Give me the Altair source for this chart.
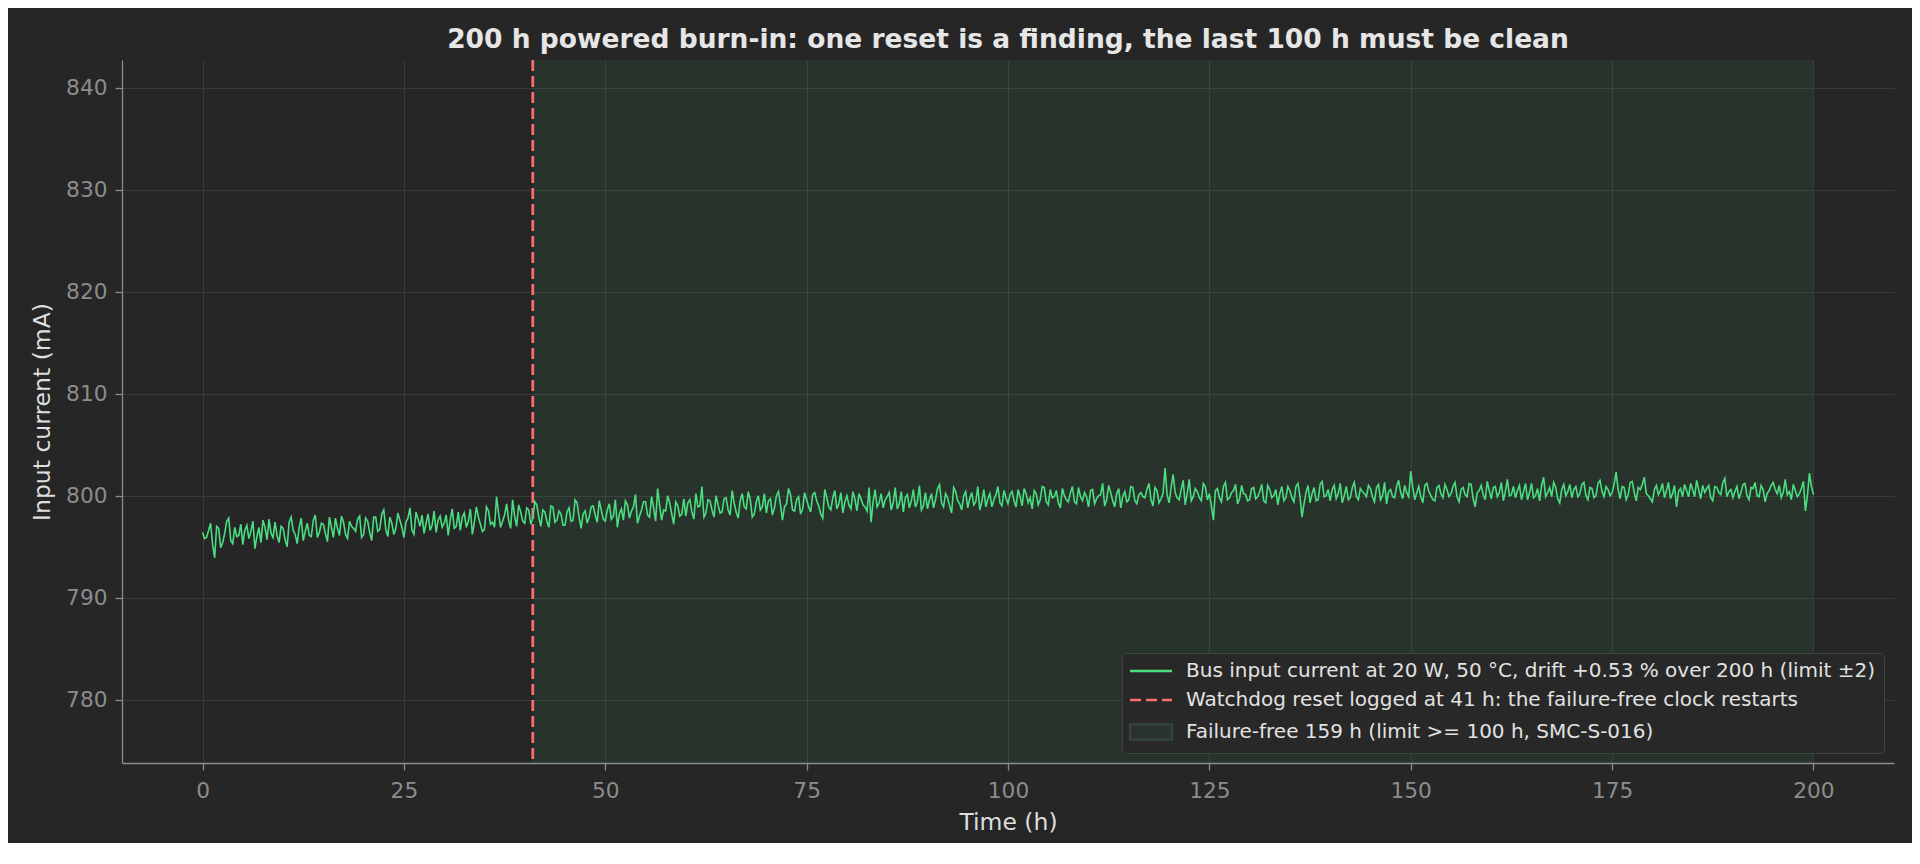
import altair as alt
import numpy as np
import pandas as pd

# ---- data ----
# current samples on the whole half hours, split in four 50 h blocks
current_0_50 = [
    796.4, 795.9, 797.3, 793.9, 796.8, 795.4, 797.5, 795.6, 796.9, 796.1,
    795.2, 797.1, 796.5, 794.8, 796.9, 797.6, 795.7, 796.3, 797.4, 795.4,
    796.8, 795.0, 797.9, 796.2, 796.9, 795.6, 797.3, 796.0, 798.1, 796.4,
    797.2, 795.5, 796.9, 797.8, 796.1, 797.4, 795.8, 797.0, 796.5, 798.0,
    796.2, 797.5, 795.6, 797.9, 796.7, 798.6, 796.0, 797.3, 796.8, 797.6,
    795.9, 797.8, 796.6, 798.4, 797.0, 796.3, 798.2, 797.1, 796.4, 798.0,
    797.3, 796.1, 798.7, 797.0, 796.6, 798.3, 797.5, 796.2, 798.9, 797.2,
    796.7, 798.5, 797.4, 799.9, 796.9, 798.1, 797.6, 799.6, 797.0, 798.4,
    797.3, 798.6, 797.8, 799.1, 797.0, 798.4, 796.9, 798.9, 797.6, 798.2,
    797.1, 798.8, 797.6, 799.3, 796.8, 798.5, 797.9, 799.0, 797.4, 798.6,
]
current_50_100 = [
    797.5, 799.2, 798.0, 796.9, 798.7, 799.5, 797.8, 798.9, 797.3, 798.6,
    799.4, 797.9, 798.8, 800.7, 797.6, 798.5, 799.3, 797.2, 799.0, 798.2,
    798.0, 799.6, 797.7, 798.9, 800.9, 798.3, 799.5, 797.9, 799.1, 798.4,
    799.8, 798.1, 799.3, 797.8, 800.2, 798.7, 799.6, 798.2, 800.0, 798.9,
    798.3, 799.7, 798.8, 800.4, 797.6, 799.2, 800.1, 798.5, 799.9, 798.7,
    799.6, 798.4, 800.3, 799.0, 797.8, 799.8, 798.6, 800.5, 799.2, 798.3,
    800.0, 798.7, 799.6, 800.2, 799.1, 798.5, 797.4, 800.6, 799.3, 798.8,
    799.9, 798.6, 800.8, 799.2, 798.4, 800.1, 799.5, 798.9, 801.0, 799.0,
    798.7, 800.2, 799.6, 801.1, 798.9, 799.8, 798.3, 800.4, 799.2, 800.0,
    798.8, 800.3, 799.4, 798.6, 800.6, 799.7, 798.9, 800.1, 799.3, 800.5,
]
current_100_150 = [
    799.2, 800.4, 798.9, 799.9, 800.7, 799.3, 798.7, 800.2, 799.6, 800.8,
    799.1, 799.8, 800.5, 798.8, 800.0, 799.4, 800.9, 799.2, 799.9, 800.3,
    798.9, 800.6, 799.7, 800.1, 799.0, 801.0, 799.5, 800.2, 798.8, 800.4,
    799.6, 800.8, 799.2, 800.3, 799.8, 801.2, 799.0, 800.5, 799.7, 802.7,
    799.3, 802.1, 799.8, 800.6, 799.1, 801.6, 799.9, 800.4, 799.5, 800.9,
    800.2, 797.6, 800.7, 799.4, 801.3, 799.8, 800.5, 799.2, 801.0, 800.1,
    799.6, 800.8, 799.9, 801.1, 799.3, 800.6, 800.0, 799.1, 800.9, 799.8,
    800.5, 799.4, 801.2, 797.9, 800.3, 799.3, 800.8, 799.6, 801.4, 800.0,
    799.5, 801.0, 800.2, 799.3, 800.9, 799.8, 801.3, 799.6, 800.4, 799.9,
    800.7, 799.4, 801.1, 800.0, 799.2, 800.6, 799.8, 801.5, 799.7, 800.3,
]
current_150_200 = [
    802.4, 799.6, 800.9, 799.3, 801.2, 800.0, 799.5, 801.0, 799.8, 800.6,
    800.2, 801.3, 799.4, 800.8, 799.9, 801.1, 798.9, 800.5, 800.1, 801.4,
    799.7, 800.9, 800.3, 799.5, 801.6, 800.1, 799.8, 801.0, 800.4, 799.6,
    801.2, 800.0, 799.5, 801.8, 800.3, 799.9, 800.8, 799.3, 801.1, 800.4,
    799.8, 800.9, 800.2, 801.3, 799.6, 800.7, 800.0, 801.5, 799.9, 800.6,
    800.3, 802.3, 799.7, 800.8, 800.1, 801.4, 799.5, 800.6, 801.8, 800.0,
    799.4, 801.0, 800.5, 799.8, 801.3, 800.2, 798.9, 800.7, 801.1, 799.9,
    800.6, 801.5, 799.7, 800.3, 801.0, 799.5, 800.8, 800.1, 801.7, 800.4,
    799.8, 800.9, 800.3, 801.2, 799.6, 800.7, 800.0, 801.0, 799.4, 800.5,
    801.3, 800.2, 799.8, 801.6, 800.4, 801.1, 799.9, 800.7, 798.5, 802.2,
    800.1,
]
# samples a quarter hour after each of the above
mid_0_50 = [
    795.8, 796.6, 795.2, 797.0, 794.9, 796.3, 797.8, 795.3, 796.0, 797.2,
    796.6, 795.8, 797.5, 796.0, 795.4, 796.9, 797.7, 795.9, 796.1, 797.0,
    795.7, 797.4, 796.6, 795.3, 797.8, 796.5, 796.1, 797.6, 795.9, 797.3,
    796.3, 797.9, 795.9, 796.8, 798.0, 796.2, 797.5, 796.8, 797.7, 795.9,
    797.8, 796.4, 797.9, 796.5, 798.2, 796.7, 797.9, 796.2, 798.3, 796.9,
    797.4, 798.8, 796.2, 797.7, 798.1, 797.3, 796.6, 798.5, 797.6, 796.9,
    798.1, 797.6, 796.8, 798.4, 797.9, 796.9, 798.7, 797.4, 797.9, 796.5,
    798.9, 797.2, 796.9, 798.3, 797.5, 799.2, 796.8, 798.0, 799.1, 797.5,
    798.8, 797.2, 799.4, 797.9, 798.6, 797.5, 799.0, 797.4, 798.5, 797.1,
    798.4, 797.5, 799.6, 797.9, 798.2, 797.3, 798.9, 798.1, 799.5, 797.7,
]
mid_50_100 = [
    798.6, 797.7, 799.6, 798.2, 797.6, 799.1, 798.5, 800.1, 798.0, 799.4,
    798.1, 799.9, 797.5, 799.0, 798.6, 800.0, 798.2, 799.4, 798.0, 799.7,
    799.3, 798.4, 800.2, 799.0, 797.9, 799.6, 798.6, 800.0, 798.3, 799.7,
    798.6, 800.5, 798.4, 799.5, 798.9, 800.4, 797.9, 799.4, 798.6, 800.2,
    799.5, 798.1, 800.0, 799.1, 798.9, 800.7, 798.6, 799.6, 798.2, 800.3,
    798.9, 800.1, 799.5, 798.2, 800.6, 798.9, 799.8, 798.7, 800.3, 799.4,
    799.1, 800.4, 798.5, 799.7, 798.9, 800.8, 799.4, 798.9, 800.2, 799.6,
    800.3, 799.3, 798.7, 800.4, 799.8, 798.8, 800.6, 799.4, 798.6, 800.3,
    799.6, 798.8, 800.7, 799.3, 800.2, 799.0, 800.8, 799.5, 798.6, 800.4,
    799.7, 799.1, 800.9, 799.4, 798.9, 800.2, 799.6, 800.9, 799.0, 799.8,
]
mid_100_150 = [
    800.1, 799.5, 800.6, 799.0, 800.2, 799.8, 800.5, 799.1, 800.9, 799.4,
    800.6, 799.9, 799.3, 800.7, 799.6, 800.3, 799.4, 800.8, 799.5, 799.9,
    800.5, 799.2, 800.0, 801.2, 799.6, 800.3, 798.9, 800.7, 799.9, 799.4,
    800.9, 799.5, 800.1, 799.9, 800.6, 799.6, 800.8, 799.3, 800.2, 800.1,
    800.8, 800.3, 799.6, 801.5, 800.2, 799.5, 800.7, 799.8, 801.2, 799.6,
    799.0, 800.5, 799.8, 800.9, 799.6, 800.3, 801.1, 799.7, 800.2, 799.5,
    800.7, 799.7, 800.4, 799.5, 801.0, 799.8, 800.6, 800.2, 799.5, 800.9,
    799.8, 800.9, 799.9, 799.2, 801.0, 800.2, 799.5, 801.1, 799.9, 800.6,
    800.6, 799.7, 801.2, 800.0, 799.6, 800.8, 799.9, 800.7, 800.2, 801.0,
    799.9, 800.8, 799.6, 801.3, 800.4, 799.9, 800.9, 800.3, 801.0, 799.9,
]
mid_150_200 = [
    800.8, 800.3, 799.9, 801.0, 800.4, 799.6, 800.8, 800.2, 801.1, 799.9,
    800.9, 799.9, 800.6, 800.1, 801.2, 799.7, 800.3, 801.0, 799.6, 800.5,
    800.8, 799.9, 801.3, 800.4, 800.0, 800.9, 800.5, 799.6, 801.2, 800.3,
    799.8, 800.7, 801.0, 799.9, 800.8, 801.3, 799.7, 800.6, 800.0, 801.1,
    800.6, 799.9, 801.1, 800.0, 800.8, 799.8, 801.2, 800.4, 800.9, 800.0,
    801.1, 800.6, 800.9, 799.6, 801.3, 800.3, 800.8, 801.1, 800.2, 799.7,
    800.6, 800.1, 801.2, 800.5, 799.7, 801.0, 800.4, 799.9, 800.5, 801.2,
    799.9, 800.6, 801.0, 800.7, 799.8, 800.9, 800.3, 801.3, 799.9, 800.6,
    800.4, 799.7, 801.1, 800.0, 800.8, 801.3, 799.9, 800.6, 800.2, 801.0,
    800.6, 801.0, 800.3, 800.1, 799.6, 800.5, 800.2, 801.4, 800.0, 800.9,
]
sample_step_h = 0.25

reset_h = [41]
failure_free_span = [41, 200]

series_labels = [
    "Bus input current at 20 W, 50 °C, drift +0.53 % over 200 h (limit ±2)",
    "Watchdog reset logged at 41 h: the failure-free clock restarts",
    "Failure-free 159 h (limit >= 100 h, SMC-S-016)",
]

x_ticks = [0, 25, 50, 75, 100, 125, 150, 175, 200]
y_ticks = [780, 790, 800, 810, 820, 830, 840]

title_text = "200 h powered burn-in: one reset is a finding, the last 100 h must be clean"

# ---- styling ----
BG = "#262626"
GREEN = "#4ade80"
RED = "#f87171"
FONT = "DejaVu Sans"

main = current_0_50 + current_50_100 + current_100_150 + current_150_200
mid = mid_0_50 + mid_50_100 + mid_100_150 + mid_150_200
values = []
for a, b in zip(main[:-1], mid):
    values.extend([a, b])
values.append(main[-1])
times = np.arange(len(values)) * sample_step_h
line_df = pd.DataFrame({"t": times, "mA": values})
rule_df = pd.DataFrame({"t": reset_h})
span_df = pd.DataFrame({"t": [failure_free_span[0]], "t2": [failure_free_span[1]]})
legend_df = pd.DataFrame({"series": series_labels})

xs = alt.Scale(domain=[-10, 210], nice=False, zero=False)
ys = alt.Scale(domain=[773.8, 842.7], nice=False, zero=False)

x_axis = alt.Axis(values=x_ticks, format="d", title="Time (h)")
y_axis = alt.Axis(values=y_ticks, format="d", title="Input current (mA)")

span = alt.Chart(span_df).mark_rect(color=GREEN, opacity=0.07).encode(
    x=alt.X("t:Q", scale=xs, axis=x_axis),
    x2="t2:Q",
)

rule = alt.Chart(rule_df).mark_rule(color=RED, strokeWidth=2.7, strokeDash=[11, 5]).encode(
    x=alt.X("t:Q", scale=xs, axis=x_axis),
)

line = alt.Chart(line_df).mark_line(color=GREEN, strokeWidth=1.6).encode(
    x=alt.X("t:Q", scale=xs, axis=x_axis),
    y=alt.Y("mA:Q", scale=ys, axis=y_axis),
)

# legend-only layer (no rows drawn, scale domains are explicit)
shape_paths = [
    "M-4.2,0L4.2,0",
    "M-4.2,0L-2.0,0M-1.0,0L1.2,0M2.2,0L4.2,0",
    "M-4.2,-1.5L4.2,-1.5L4.2,1.5L-4.2,1.5Z",
]
leg = alt.Legend(
    title=None,
    orient="bottom-right",
    offset=10,
    fillColor="#282828",
    strokeColor="#3a463e",
    cornerRadius=4,
    padding=8,
    labelFont=FONT,
    labelFontSize=20,
    labelColor="#e2e2e2",
    labelLimit=900,
    symbolSize=100,
    symbolStrokeWidth=2.4,
    symbolOffset=11,
    labelOffset=25,
    rowPadding=9,
    symbolOpacity=1,
    symbolFillColor="transparent",
    symbolStrokeColor="transparent",
)
legend_layer = alt.Chart(legend_df).transform_filter("false").mark_point(size=100, opacity=1).encode(
    shape=alt.Shape("series:N", scale=alt.Scale(domain=series_labels, range=shape_paths), legend=leg),
    stroke=alt.Stroke("series:N", scale=alt.Scale(domain=series_labels, range=[GREEN, RED, "#33453a"]), legend=leg),
    fill=alt.Fill("series:N", scale=alt.Scale(domain=series_labels, range=["transparent", "transparent", "#2a322d"]), legend=leg),
)

chart = alt.layer(span, rule, line, legend_layer).properties(
    width=1772,
    height=703,
    background=BG,
    padding={"left": 114, "top": 52, "right": 18, "bottom": 80},
    autosize=alt.AutoSizeParams(type="none"),
    title=alt.TitleParams(
        text=title_text,
        font=FONT,
        fontSize=26.5,
        fontWeight="bold",
        color="#e6e6e6",
        anchor="middle",
        baseline="alphabetic",
        offset=12,
        dy=27.5,
    ),
).configure_view(stroke=None).configure_axis(
    labelFont=FONT,
    titleFont=FONT,
    labelFontSize=21.7,
    titleFontSize=23.5,
    titleFontWeight="normal",
    labelColor="#8c8c8c",
    titleColor="#dedede",
    domainColor="#8c8c8c",
    domainWidth=1.3,
    tickColor="#8c8c8c",
    tickWidth=1.3,
    tickSize=7,
    gridColor="#3a3a3a",
    gridWidth=1,
).configure_axisX(
    labelPadding=10,
    titlePadding=9,
).configure_axisY(
    labelPadding=8,
    titlePadding=11,
)

chart.save("out.html", embed_options={"renderer": "svg", "actions": False})
